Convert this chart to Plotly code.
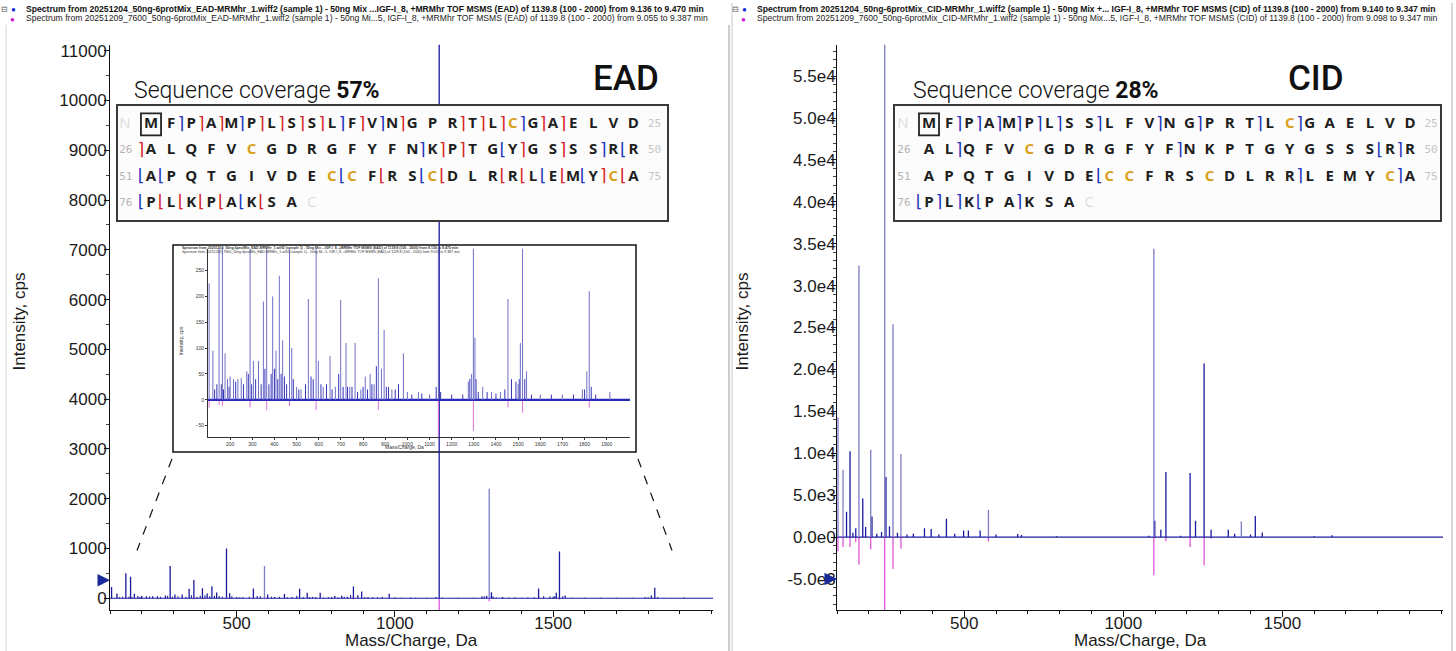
import plotly.graph_objects as go

W, H = 1456, 651

# ---------------- data ----------------
# EAD spectrum (blue, positive)
ead_mz = [105, 122, 150, 165, 177, 188, 200, 215, 235, 250, 275, 290, 305, 328, 350, 365, 392, 407, 422, 437,
          468, 478, 500, 520, 553, 588, 598, 620, 651, 675, 699, 723, 740, 764, 790, 810, 832, 850, 869, 883,
          895, 930, 982, 1000, 1050, 1100, 1140, 1275, 1290, 1298, 1305, 1340, 1380, 1420, 1454, 1500, 1510,
          1520, 1538, 1600, 1700, 1790, 1810, 1821, 1914]
ead_int = [225, 95, 500, 433, 90, 40, 45, 40, 40, 42, 55, 647, 75, 75, 190, 367, 200, 95, 240, 115,
           1000, 100, 25, 20, 195, 647, 75, 25, 85, 25, 193, 110, 25, 110, 20, 45, 50, 30, 235, 60,
           135, 20, 90, 15, 15, 10, 14000, 35, 50, 2200, 120, 25, 15, 15, 195, 30, 110,
           940, 55, 10, 10, 20, 55, 210, 15]
# EAD small peaks
ead_minor_mz = [130, 140, 160, 170, 195, 225, 260, 282, 297, 315, 340, 357, 375, 385, 400, 415, 430, 445, 455,
                485, 510, 540, 565, 575, 610, 635, 660, 690, 710, 730, 750, 775, 800, 820, 840, 860, 905, 915,
                945, 960, 1020, 1065, 1130, 1150, 1200, 1250, 1282, 1310, 1320, 1360, 1400, 1440, 1470, 1490,
                1505, 1530, 1560, 1650, 1750, 1800, 1830, 1850]
ead_minor_int = [20, 30, 30, 20, 25, 35, 30, 50, 30, 40, 30, 60, 30, 50, 60, 40, 50, 45, 30,
                 40, 20, 30, 45, 40, 30, 30, 20, 50, 25, 25, 25, 15, 25, 20, 30, 65, 25, 25,
                 20, 30, 10, 12, 25, 15, 10, 10, 40, 40, 15, 15, 12, 20, 40, 35,
                 40, 40, 10, 10, 10, 20, 25, 10]
# EAD reference spectrum (magenta, mirrored)
ead_neg_mz = [105, 150, 165, 290, 365, 468, 588, 869, 1140, 1298, 1454, 1520, 1821]
ead_neg_int = [-15, -10, -12, -15, -20, -12, -20, -20, -400, -60, -15, -25, -15]
ead_light = [1298, 588]

# CID spectrum
cid_mz = [103, 119, 130, 141, 150, 159, 169, 181, 190, 206, 210, 225, 240, 250, 254, 265, 276, 290, 301, 320,
          340, 375, 396, 420, 444, 470, 498, 513, 550, 576, 600, 668, 680, 790, 1080, 1096, 1099, 1118, 1134,
          1180, 1210, 1227, 1254, 1276, 1330, 1350, 1371, 1400, 1415, 1437, 1600, 1656]
cid_int = [14300, 8030, 3030, 10240, 500, 1060, 32400, 4600, 1200, 10430, 2440, 400, 600, 62000, 7170, 1300,
           25400, 500, 9920, 300, 400, 1060, 945, 300, 2170, 400, 790, 790, 790, 3230, 300, 350, 250, 100, 150,
           34400, 1930, 870, 7760, 150, 7640, 1930, 20700, 870, 870, 400, 1850, 300, 2520, 550, 100, 200]
cid_neg_mz = [103, 119, 141, 159, 169, 206, 250, 276, 301, 576, 1096, 1134, 1210, 1254, 1276]
cid_neg_int = [-1700, -1200, -1200, -600, -3300, -1500, -9500, -3800, -1400, -500, -4570, -500, -1200, -3400, -200]
cid_light = [103, 119, 169, 206, 250, 276, 301, 576, 1096, 1371]

# ticks
x_ticks = [500, 1000, 1500]
left_yticks = list(range(0, 11001, 1000))
right_yticks = [-5000, 0, 5000, 10000, 15000, 20000, 25000, 30000, 35000, 40000, 45000, 50000, 55000]
right_yticklabels = ["-5.0e3", "0.0e0", "5.0e3", "1.0e4", "1.5e4", "2.0e4", "2.5e4", "3.0e4", "3.5e4",
                     "4.0e4", "4.5e4", "5.0e4", "5.5e4"]
inset_xticks = list(range(200, 2000, 100))
inset_yticks = [-50, 0, 50, 100, 150, 200, 250]

# sequence coverage
sequence = "MFPAMPLSSLFVNGPRTLCGAELVDALQFVCGDRGFYFNKPTGYGSSSRRAPQTGIVDECCFRSCDLRRLEMYCAPLKPAKSA"
ead_cut_pos = [2, 3, 4, 5, 6, 7, 8, 9, 10, 11, 12, 13, 16, 17, 18, 19, 20, 21,
               25, 39, 40, 41, 43, 44, 46, 48, 49,
               50, 51, 60, 62, 64, 65, 68, 69, 70, 71, 72, 73, 74,
               75, 76, 77, 78, 79, 80, 81]
ead_cut_type = ["c"] * 18 + ["c", "c", "c", "c", "z", "c", "c", "c", "z"] + \
               ["z", "z", "z", "z", "z", "z", "z", "z", "z", "z", "z", "c", "z"] + ["z"] * 7
ead_cut_col = ["b", "r", "r", "b", "r", "r", "r", "r", "b", "r", "b", "r", "r", "r", "r", "b", "r", "r",
               "r", "b", "r", "r", "b", "r", "r", "b", "b",
               "b", "b", "b", "r", "b", "r", "r", "r", "b", "r", "b", "r", "r",
               "b", "r", "r", "r", "r", "b", "r"]
cid_cut_pos = [2, 3, 4, 5, 6, 7, 9, 12, 14, 17, 19, 27, 38, 48, 49, 59, 69, 74, 75, 76, 77, 78, 80]
cid_cut_type = ["c"] * 11 + ["c", "c", "z", "c", "z", "c", "c", "z", "c", "c", "z", "c"]
cid_cut_col = ["b"] * 23
coverage = {"ead": "57%", "cid": "28%"}

header_ead = ["Spectrum from 20251204_50ng-6protMix_EAD-MRMhr_1.wiff2 (sample 1) - 50ng Mix ...IGF-I_8, +MRMhr TOF MSMS (EAD) of 1139.8 (100 - 2000) from 9.136 to 9.470 min",
              "Spectrum from 20251209_7600_50ng-6protMix_EAD-MRMhr_1.wiff2 (sample 1) - 50ng Mi...5, IGF-I_8, +MRMhr TOF MSMS (EAD) of 1139.8 (100 - 2000) from 9.055 to 9.387 min"]
header_cid = ["Spectrum from 20251204_50ng-6protMix_CID-MRMhr_1.wiff2 (sample 1) - 50ng Mix +... IGF-I_8, +MRMhr TOF MSMS (CID) of 1139.8 (100 - 2000) from 9.140 to 9.347 min",
              "Spectrum from 20251209_7600_50ng-6protMix_CID-MRMhr_1.wiff2 (sample 1) - 50ng Mix...5, IGF-I_8, +MRMhr TOF MSMS (CID) of 1139.8 (100 - 2000) from 9.098 to 9.347 min"]

# ---------------- layout helpers ----------------
X_RANGE = [100, 2005]
BLUE = "#1a1aa0"
LIGHT = "#7c7cc6"
MAG = "#d83cd8"
RED = "#d8262a"
BBLUE = "#2436c0"
GOLD = "#d9a11c"
TICKFONT = dict(family="Liberation Sans, Arial, sans-serif", size=17, color="#1a1a1a")


def px(v):
    return v / W


def py(v):
    return 1 - v / H


def sticks(mz, inten):
    xs, ys = [], []
    for m, v in zip(mz, inten):
        xs += [m, m, None]
        ys += [0, v, None]
    return xs, ys


def split(mz, inten, light):
    d = [(m, v) for m, v in zip(mz, inten) if m not in light]
    l = [(m, v) for m, v in zip(mz, inten) if m in light]
    return ([a for a, _ in d], [b for _, b in d]), ([a for a, _ in l], [b for _, b in l])


fig = go.Figure()


def add_sticks(mz, inten, color, xa, ya, width=1.1):
    xs, ys = sticks(mz, inten)
    fig.add_trace(go.Scatter(x=xs, y=ys, mode="lines", line=dict(color=color, width=width),
                             xaxis=xa, yaxis=ya, hoverinfo="skip", showlegend=False))


def add_baseline(xa, ya, color, width):
    fig.add_trace(go.Scatter(x=X_RANGE, y=[0, 0], mode="lines", line=dict(color=color, width=width),
                             xaxis=xa, yaxis=ya, hoverinfo="skip", showlegend=False))


# left main (EAD)
add_sticks(ead_neg_mz, ead_neg_int, MAG, "x", "y")
add_baseline("x", "y", BLUE, 1.2)
add_sticks(ead_minor_mz, ead_minor_int, BLUE, "x", "y")
(dm, di), (lm, li) = split(ead_mz, ead_int, ead_light)
add_sticks(dm, di, BLUE, "x", "y", 1.3)
add_sticks(lm, li, LIGHT, "x", "y", 1.3)

# right main (CID)
add_sticks(cid_neg_mz, cid_neg_int, MAG, "x2", "y2")
add_baseline("x2", "y2", BLUE, 1.2)
(dm, di), (lm, li) = split(cid_mz, cid_int, cid_light)
add_sticks(dm, di, BLUE, "x2", "y2", 1.3)
add_sticks(lm, li, LIGHT, "x2", "y2", 1.3)

# inset (zoom of EAD)
add_sticks(ead_neg_mz, ead_neg_int, "#e070e0", "x3", "y3", 1)
add_baseline("x3", "y3", "#2a2ab8", 2.2)
add_sticks(ead_minor_mz, ead_minor_int, "#3535b8", "x3", "y3", 1)
add_sticks(ead_mz, ead_int, "#6f6fc8", "x3", "y3", 1)

# sequence boxes
SEQ_N = 25


def add_sequence(xa, ya, xr, yr, cut_pos, cut_type, cut_col):
    # background
    fig.add_trace(go.Scatter(x=[xr[0], xr[1], xr[1], xr[0], xr[0]], y=[yr[0], yr[0], yr[1], yr[1], yr[0]],
                             mode="lines", fill="toself", fillcolor="#fcfcfc", line=dict(width=0),
                             xaxis=xa, yaxis=ya, hoverinfo="skip", showlegend=False))
    xs = [i % SEQ_N for i in range(len(sequence))]
    ys = [i // SEQ_N for i in range(len(sequence))]
    cols = [GOLD if a == "C" else "#1e1e1e" for a in sequence]
    fig.add_trace(go.Scatter(x=xs, y=ys, text=list(sequence), mode="text",
                             textfont=dict(family="Open Sans, DejaVu Sans, sans-serif", size=15, color=cols,
                                           weight="bold"),
                             xaxis=xa, yaxis=ya, hoverinfo="skip", showlegend=False))
    # fragment brackets
    bx = [p % SEQ_N - 0.5 for p in cut_pos]
    by = [p // SEQ_N for p in cut_pos]
    bt = ["⌉" if t == "c" else "⌊" for t in cut_type]
    bc = [RED if c == "r" else BBLUE for c in cut_col]
    fig.add_trace(go.Scatter(x=bx, y=by, text=bt, mode="text",
                             textfont=dict(family="DejaVu Sans, sans-serif", size=17, color=bc),
                             xaxis=xa, yaxis=ya, hoverinfo="skip", showlegend=False))
    # residue numbers & termini
    rows = len(sequence) // SEQ_N + 1
    fig.add_trace(go.Scatter(x=[-1.25] * (rows - 1), y=list(range(1, rows)),
                             text=[str(r * SEQ_N + 1) for r in range(1, rows)], mode="text",
                             textfont=dict(family="DejaVu Sans Mono, monospace", size=11, color="#b4b4b4"),
                             xaxis=xa, yaxis=ya, hoverinfo="skip", showlegend=False))
    fig.add_trace(go.Scatter(x=[25.05] * (rows - 1), y=list(range(0, rows - 1)),
                             text=[str((r + 1) * SEQ_N) for r in range(0, rows - 1)], mode="text",
                             textfont=dict(family="DejaVu Sans Mono, monospace", size=11, color="#c4c4c4"),
                             xaxis=xa, yaxis=ya, hoverinfo="skip", showlegend=False))
    fig.add_trace(go.Scatter(x=[-1.3, len(sequence) % SEQ_N], y=[0, rows - 1], text=["N", "C"], mode="text",
                             textfont=dict(family="Open Sans, sans-serif", size=15, color="#dcdcdc"),
                             xaxis=xa, yaxis=ya, hoverinfo="skip", showlegend=False))


# pixel geometry of the boxes
SEQ_Y = (103, 218)
ROW0, ROWSP = 122, 26.3
L_BOX = (118, 667, 151, 20.1)
R_BOX = (895, 1440, 929, 20.04)


def box_ranges(b):
    x0, x1, c0, sp = b
    xr = [(x0 - c0) / sp, (x1 - c0) / sp]
    yr = [(SEQ_Y[1] - ROW0) / ROWSP, (SEQ_Y[0] - ROW0) / ROWSP]
    return xr, yr


lxr, lyr = box_ranges(L_BOX)
rxr, ryr = box_ranges(R_BOX)
add_sequence("x4", "y4", lxr, lyr, ead_cut_pos, ead_cut_type, ead_cut_col)
add_sequence("x5", "y5", rxr, ryr, cid_cut_pos, cid_cut_type, cid_cut_col)

# ---------------- axes ----------------
YDOM = [py(610), py(42)]


def main_x(dom):
    return dict(domain=dom, range=X_RANGE, tickmode="array", tickvals=x_ticks, ticks="outside", ticklen=6,
                tickcolor="#111", showline=True, linecolor="#111", linewidth=1, showgrid=False, zeroline=False,
                tickfont=TICKFONT, ticklabelstandoff=-9,
                minor=dict(tickmode="linear", tick0=0, dtick=100, ticks="outside", ticklen=3, tickcolor="#111"))


def main_y(dom, rng, tv, tt=None, minor_dt=500, standoff=-6):
    d = dict(domain=dom, range=rng, tickmode="array", tickvals=tv, ticks="outside", ticklen=5,
             tickcolor="#111", showline=True, linecolor="#111", linewidth=1, showgrid=False, zeroline=False,
             tickfont=TICKFONT, tickformat="d", ticklabelstandoff=standoff,
             minor=dict(tickmode="linear", tick0=0, dtick=minor_dt, ticks="outside", ticklen=3, tickcolor="#444"))
    if tt:
        d["ticktext"] = tt
    return d


def hidden_axes(dom, rng, anchor):
    return dict(domain=dom, range=rng, anchor=anchor, showline=True, mirror=True, linecolor="#3a3a3a",
                linewidth=1.5, showticklabels=False, ticks="", showgrid=False, zeroline=False)


layout_axes = dict(
    xaxis=dict(main_x([px(110), px(713)]), anchor="y"),
    yaxis=dict(main_y(YDOM, [-240, 11120], left_yticks), anchor="x"),
    xaxis2=dict(main_x([px(837), px(1443)]), anchor="y2"),
    yaxis2=dict(main_y(YDOM, [-8730, 58740], right_yticks, right_yticklabels, 1000, -8), anchor="x2"),
    xaxis3=dict(domain=[px(208), px(630)], range=X_RANGE, anchor="y3", tickmode="array", tickvals=inset_xticks,
                ticks="outside", ticklen=2, tickcolor="#333", showline=True, linecolor="#333", linewidth=0.8,
                showgrid=False, zeroline=False, tickfont=dict(family="Liberation Sans, Arial", size=5, color="#333")),
    yaxis3=dict(domain=[py(436), py(247)], range=[-72, 292], anchor="x3", tickmode="array", tickvals=inset_yticks,
                ticks="outside", ticklen=2, tickcolor="#333", showline=True, linecolor="#333", linewidth=0.8,
                showgrid=False, zeroline=False, tickfont=dict(family="Liberation Sans, Arial", size=5, color="#333")),
    xaxis4=hidden_axes([px(L_BOX[0]), px(L_BOX[1])], lxr, "y4"),
    yaxis4=hidden_axes([py(SEQ_Y[1]), py(SEQ_Y[0])], lyr, "x4"),
    xaxis5=hidden_axes([px(R_BOX[0]), px(R_BOX[1])], rxr, "y5"),
    yaxis5=hidden_axes([py(SEQ_Y[1]), py(SEQ_Y[0])], ryr, "x5"),
)

# ---------------- annotations ----------------
ann = []
HF = "Liberation Sans, Arial, sans-serif"


def header(x0, lines):
    ann.append(dict(x=px(x0 - 20), y=py(6), xref="paper", yref="paper", text="⊟", showarrow=False,
                    xanchor="center", yanchor="middle", font=dict(size=8, color="#555")))
    ann.append(dict(x=px(x0 - 11), y=py(6), xref="paper", yref="paper", text="●", showarrow=False,
                    xanchor="center", yanchor="middle", font=dict(size=8, color="#1530d8")))
    ann.append(dict(x=px(x0 - 12), y=py(15.5), xref="paper", yref="paper", text="●", showarrow=False,
                    xanchor="center", yanchor="middle", font=dict(size=8, color="#d21ad2")))
    ann.append(dict(x=px(x0), y=py(6), xref="paper", yref="paper", text="<b>" + lines[0] + "</b>",
                    showarrow=False, xanchor="left", yanchor="middle", font=dict(family=HF, size=8.6, color="#111")))
    ann.append(dict(x=px(x0), y=py(15.5), xref="paper", yref="paper", text=lines[1],
                    showarrow=False, xanchor="left", yanchor="middle", font=dict(family=HF, size=8.6, color="#222")))


header(24, header_ead)
header(755, header_cid)

AXF = dict(family="Liberation Sans, Arial, sans-serif", size=17, color="#1a1a1a")
for xc in (20, 743):
    ann.append(dict(x=px(xc), y=py(320), xref="paper", yref="paper", text="Intensity, cps", textangle=-90,
                    showarrow=False, xanchor="center", yanchor="middle", font=AXF))
for xc in (411, 1140):
    ann.append(dict(x=px(xc), y=py(640), xref="paper", yref="paper", text="Mass/Charge, Da",
                    showarrow=False, xanchor="center", yanchor="middle", font=AXF))

COVF = dict(family="Roboto, Lato, sans-serif", size=23, color="#111", weight=300)
ann.append(dict(x=px(132), y=py(88), xref="paper", yref="paper",
                text="Sequence coverage <b>" + coverage["ead"] + "</b>",
                showarrow=False, xanchor="left", yanchor="middle", font=COVF))
ann.append(dict(x=px(911), y=py(88), xref="paper", yref="paper",
                text="Sequence coverage <b>" + coverage["cid"] + "</b>",
                showarrow=False, xanchor="left", yanchor="middle", font=COVF))
LBLF = dict(family="Roboto, sans-serif", size=35, color="#111", weight=500)
ann.append(dict(x=px(626), y=py(76), xref="paper", yref="paper", text="EAD", showarrow=False,
                xanchor="center", yanchor="middle", font=LBLF))
ann.append(dict(x=px(1316), y=py(76), xref="paper", yref="paper", text="CID", showarrow=False,
                xanchor="center", yanchor="middle", font=LBLF))

# threshold arrows
ann.append(dict(x=X_RANGE[0], y=360, xref="x", yref="y", text="", showarrow=True, arrowhead=2, arrowsize=1,
                arrowwidth=2.5, arrowcolor="#1a2a9a", ax=-9, ay=0))
ann.append(dict(x=X_RANGE[0], y=-5000, xref="x2", yref="y2", text="", showarrow=True, arrowhead=2, arrowsize=1,
                arrowwidth=2.5, arrowcolor="#1a2a9a", ax=-9, ay=0))

# inset labels
IF = dict(family="Liberation Sans, Arial", size=3.5, color="#333")
ann.append(dict(x=px(180), y=py(246), xref="paper", yref="paper", text="<b>" + header_ead[0] + "</b>",
                showarrow=False, xanchor="left", yanchor="middle", font=IF))
ann.append(dict(x=px(180), y=py(250), xref="paper", yref="paper", text=header_ead[1],
                showarrow=False, xanchor="left", yanchor="middle", font=IF))
ann.append(dict(x=px(181), y=py(340), xref="paper", yref="paper", text="Intensity, cps", textangle=-90,
                showarrow=False, xanchor="center", yanchor="middle", font=dict(IF, size=5)))
ann.append(dict(x=px(404), y=py(446), xref="paper", yref="paper", text="Mass/Charge, Da",
                showarrow=False, xanchor="center", yanchor="middle", font=dict(IF, size=5)))

# ---------------- shapes ----------------
shapes = [
    # inset frame
    dict(type="rect", xref="paper", yref="paper", x0=px(173), x1=px(636), y0=py(451), y1=py(243),
         line=dict(color="#111", width=1.5), fillcolor="white", layer="below"),
    # zoom guide lines
    dict(type="line", xref="paper", yref="paper", x0=px(172), y0=py(458), x1=px(137), y1=py(550),
         line=dict(color="#111", width=1.2, dash="dash")),
    dict(type="line", xref="paper", yref="paper", x0=px(638), y0=py(458), x1=px(672), y1=py(550),
         line=dict(color="#111", width=1.2, dash="dash")),
    # panel frames
    dict(type="line", xref="paper", yref="paper", x0=px(6), x1=px(6), y0=0, y1=py(22),
         line=dict(color="#d8d8d8", width=1)),
    dict(type="line", xref="paper", yref="paper", x0=px(729), x1=px(729), y0=0, y1=py(22),
         line=dict(color="#9a9a9a", width=1)),
    dict(type="line", xref="paper", yref="paper", x0=px(732), x1=px(732), y0=0, y1=1,
         line=dict(color="#c8c8c8", width=1)),
    dict(type="line", xref="paper", yref="paper", x0=px(1452), x1=px(1452), y0=0, y1=1,
         line=dict(color="#b0b0b0", width=1)),
    # N-terminal Met box
    dict(type="rect", xref="x4", yref="y4", x0=-0.5, x1=0.5, y0=-0.42, y1=0.42,
         line=dict(color="#222", width=1.8)),
    dict(type="rect", xref="x5", yref="y5", x0=-0.5, x1=0.5, y0=-0.42, y1=0.42,
         line=dict(color="#222", width=1.8)),
]

fig.update_layout(width=W, height=H, margin=dict(l=0, r=0, t=0, b=0), paper_bgcolor="white",
                  plot_bgcolor="rgba(0,0,0,0)", showlegend=False, annotations=ann, shapes=shapes, **layout_axes)

fig.write_html("out.html", config={"displayModeBar": False},
               post_script="document.body.style.margin='0';document.body.style.overflow='hidden';")
